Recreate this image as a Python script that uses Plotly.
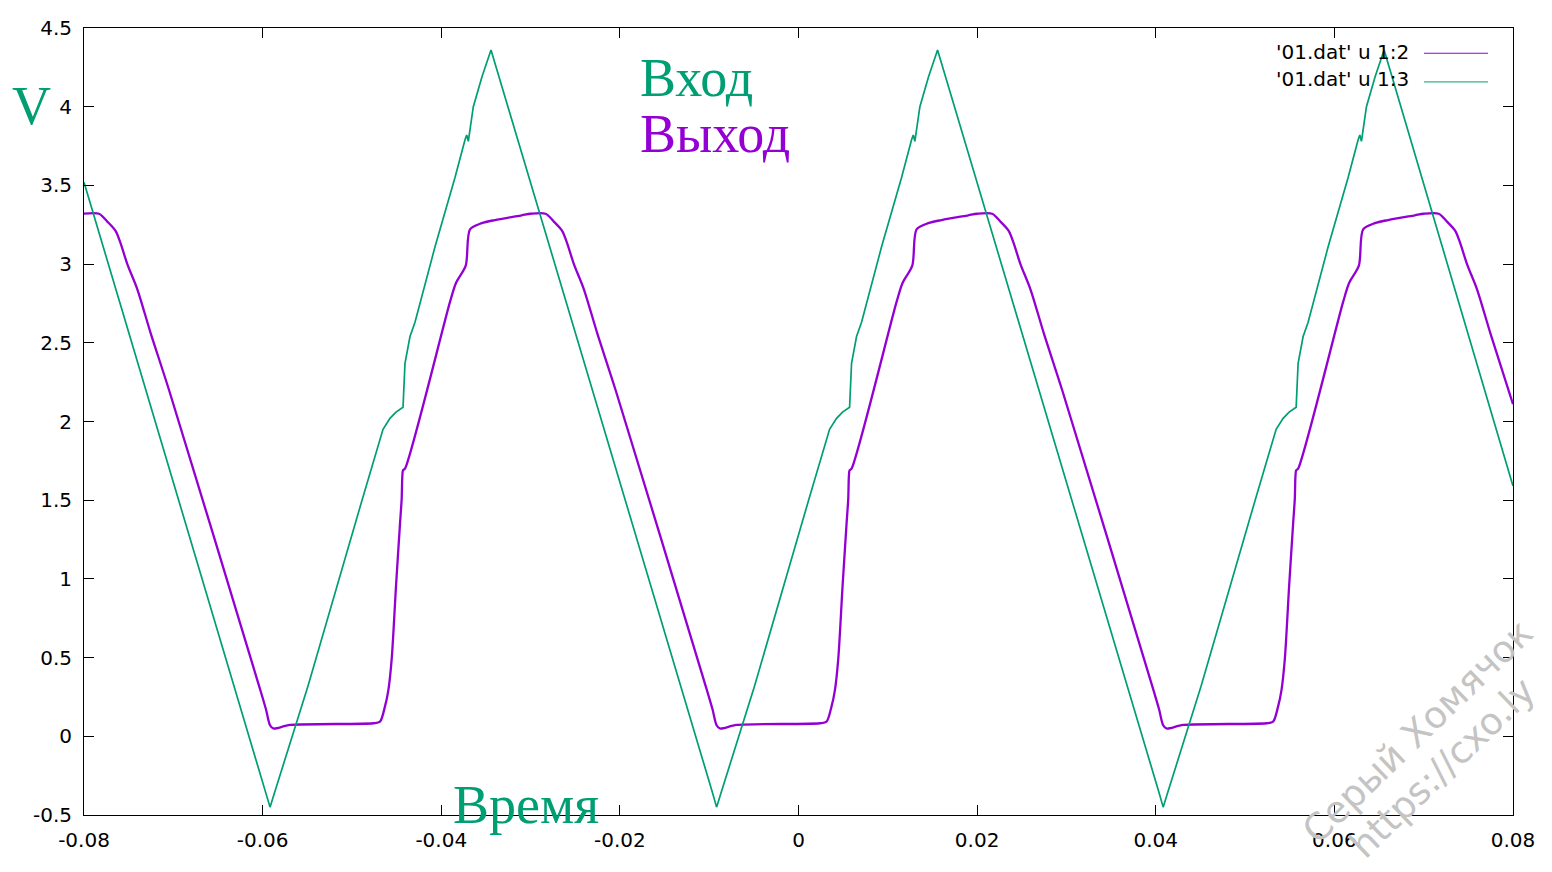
import plotly.graph_objects as go

# ---- data (time in s, voltage in V) ----
# '01.dat' u 1:3  (green, "Вход")
green_t = [
    -0.08000, -0.05962, -0.05917, -0.05873, -0.05492, -0.04887, -0.04708, -0.04652,
    -0.04574, -0.04507, -0.04428, -0.04417, -0.04406, -0.04350, -0.04294, -0.04070,
    -0.03846, -0.03734, -0.03715, -0.03697, -0.03659, -0.03641, -0.03544, -0.03443,
    -0.00962, -0.00917, -0.00873, -0.00492, 0.00113, 0.00292, 0.00348, 0.00426,
    0.00493, 0.00572, 0.00583, 0.00594, 0.00650, 0.00706, 0.00930, 0.01154,
    0.01266, 0.01285, 0.01303, 0.01341, 0.01359, 0.01456, 0.01557,
    0.04038, 0.04083, 0.04127, 0.04508, 0.05113, 0.05292, 0.05348, 0.05426,
    0.05493, 0.05572, 0.05583, 0.05594, 0.05650, 0.05706, 0.05930, 0.06154,
    0.06266, 0.06285, 0.06303, 0.06341, 0.06359, 0.06456, 0.06557, 0.08000,
]
green_v = [
    3.52, -0.36, -0.45, -0.37, 0.32, 1.50, 1.85, 1.95,
    2.02, 2.06, 2.09, 2.30, 2.37, 2.54, 2.63, 3.11,
    3.55, 3.79, 3.82, 3.78, 3.92, 4.00, 4.19, 4.36,
    -0.36, -0.45, -0.37, 0.32, 1.50, 1.85, 1.95, 2.02,
    2.06, 2.09, 2.30, 2.37, 2.54, 2.63, 3.11, 3.55,
    3.79, 3.82, 3.78, 3.92, 4.00, 4.19, 4.36,
    -0.36, -0.45, -0.37, 0.32, 1.50, 1.85, 1.95, 2.02,
    2.06, 2.09, 2.30, 2.37, 2.54, 2.63, 3.11, 3.55,
    3.79, 3.82, 3.78, 3.92, 4.00, 4.19, 4.36, 1.59,
]

# '01.dat' u 1:2  (purple, "Выход")
purple_t = [
    -0.08000, -0.07832, -0.07739, -0.07645, -0.07589, -0.07515, -0.07403, -0.07253,
    -0.07048, -0.06029, -0.05962, -0.05917, -0.05881, -0.05693, -0.04761, -0.04686,
    -0.04630, -0.04593, -0.04555, -0.04507, -0.04462, -0.04443, -0.04436, -0.04428,
    -0.04406, -0.03902, -0.03835, -0.03726, -0.03678, -0.03547, -0.03398, -0.03099,
    -0.03000, -0.02832, -0.02739, -0.02645, -0.02589, -0.02515, -0.02403, -0.02253,
    -0.02048, -0.01029, -0.00962, -0.00917, -0.00881, -0.00693, 0.00239, 0.00314,
    0.00370, 0.00407, 0.00445, 0.00493, 0.00538, 0.00557, 0.00564, 0.00572,
    0.00594, 0.01098, 0.01165, 0.01274, 0.01322, 0.01453, 0.01602, 0.01901,
    0.02000, 0.02168, 0.02261, 0.02355, 0.02411, 0.02485, 0.02597, 0.02747,
    0.02952, 0.03971, 0.04038, 0.04083, 0.04119, 0.04307, 0.05239, 0.05314,
    0.05370, 0.05407, 0.05445, 0.05493, 0.05538, 0.05557, 0.05564, 0.05572,
    0.05594, 0.06098, 0.06165, 0.06274, 0.06322, 0.06453, 0.06602, 0.06901,
    0.07000, 0.07168, 0.07261, 0.07355, 0.07411, 0.07485, 0.07597, 0.07747,
    0.08000,
]
purple_v = [
    3.32, 3.32, 3.27, 3.21, 3.13, 3.00, 2.84, 2.56,
    2.20, 0.30, 0.17, 0.07, 0.05, 0.072, 0.083, 0.093,
    0.19, 0.29, 0.49, 0.95, 1.35, 1.51, 1.65, 1.69,
    1.70, 2.76, 2.88, 2.99, 3.22, 3.26, 3.28, 3.31,
    3.32, 3.32, 3.27, 3.21, 3.13, 3.00, 2.84, 2.56,
    2.20, 0.30, 0.17, 0.07, 0.05, 0.072, 0.083, 0.093,
    0.19, 0.29, 0.49, 0.95, 1.35, 1.51, 1.65, 1.69,
    1.70, 2.76, 2.88, 2.99, 3.22, 3.26, 3.28, 3.31,
    3.32, 3.32, 3.27, 3.21, 3.13, 3.00, 2.84, 2.56,
    2.20, 0.30, 0.17, 0.07, 0.05, 0.072, 0.083, 0.093,
    0.19, 0.29, 0.49, 0.95, 1.35, 1.51, 1.65, 1.69,
    1.70, 2.76, 2.88, 2.99, 3.22, 3.26, 3.28, 3.31,
    3.32, 3.32, 3.27, 3.21, 3.13, 3.00, 2.84, 2.56,
    2.11,
]

x_tickvals = [-0.08, -0.06, -0.04, -0.02, 0, 0.02, 0.04, 0.06, 0.08]
x_ticktext = ["-0.08", "-0.06", "-0.04", "-0.02", "0", "0.02", "0.04", "0.06", "0.08"]
y_tickvals = [-0.5, 0, 0.5, 1, 1.5, 2, 2.5, 3, 3.5, 4, 4.5]
y_ticktext = ["-0.5", "0", "0.5", "1", "1.5", "2", "2.5", "3", "3.5", "4", "4.5"]

name_out = "'01.dat' u 1:2"
name_in = "'01.dat' u 1:3"

PURPLE = "#9400D3"
GREEN = "#009E73"
TICKFONT = dict(family="DejaVu Sans", size=20, color="black")
SERIF = "Liberation Serif"

fig = go.Figure()
fig.add_trace(go.Scatter(x=purple_t, y=purple_v, mode="lines", name=name_out,
                         line=dict(color=PURPLE, width=2.3, shape="spline", smoothing=0.8)))
fig.add_trace(go.Scatter(x=green_t, y=green_v, mode="lines", name=name_in,
                         line=dict(color=GREEN, width=1.7)))

axis_common = dict(ticks="inside", ticklen=10, tickcolor="black", tickwidth=1,
                   showline=True, linecolor="black", linewidth=1, mirror="ticks",
                   showgrid=False, zeroline=False, tickfont=TICKFONT)

fig.update_layout(
    width=1552, height=872,
    margin=dict(l=84, r=39, t=28, b=57),
    plot_bgcolor="white", paper_bgcolor="white",
    showlegend=False,
    xaxis=dict(range=[-0.08, 0.08], tickvals=x_tickvals, ticktext=x_ticktext,
               ticklabelstandoff=7, **axis_common),
    yaxis=dict(range=[-0.5, 4.5], tickvals=y_tickvals, ticktext=y_ticktext,
               ticklabelstandoff=7, **axis_common),
)

# gnuplot-style key (text right, sample line to its right)
for txt, col, ty, ly in [(name_out, PURPLE, 0.9699, 0.9679), (name_in, GREEN, 0.9354, 0.9315)]:
    fig.add_annotation(text=txt, xref="paper", yref="paper", x=0.9286, y=ty,
                       xanchor="right", yanchor="middle", showarrow=False,
                       font=dict(family="DejaVu Sans", size=20, color="black"))
    fig.add_shape(type="line", xref="paper", yref="paper", x0=0.9377, x1=0.9825,
                  y0=ly, y1=ly, line=dict(color=col, width=1))

# labels
fig.add_annotation(text="Вход", xref="paper", yref="paper", x=0.3875, y=0.9371,
                   xanchor="left", yanchor="middle", showarrow=False,
                   font=dict(family=SERIF, size=54, color=GREEN))
fig.add_annotation(text="Выход", xref="paper", yref="paper", x=0.3875, y=0.8659,
                   xanchor="left", yanchor="middle", showarrow=False,
                   font=dict(family=SERIF, size=54, color=PURPLE))
fig.add_annotation(text="Время", xref="paper", yref="paper", x=0.2565, y=0.0133,
                   xanchor="left", yanchor="middle", showarrow=False,
                   font=dict(family=SERIF, size=54, color=GREEN))
fig.add_annotation(text="V", xref="paper", yref="paper", x=-0.0515, y=0.9003,
                   xanchor="left", yanchor="middle", showarrow=False,
                   font=dict(family=SERIF, size=54, color=GREEN))

# watermark
fig.add_annotation(text="Серый Хомячок", xref="paper", yref="paper", x=0.9335, y=0.1055,
                   xanchor="center", yanchor="middle", showarrow=False, textangle=-44,
                   font=dict(family="DejaVu Sans", size=37, color="rgb(196,196,196)"))
fig.add_annotation(text="https://cxo.ly", xref="paper", yref="paper", x=0.9510, y=0.0600,
                   xanchor="center", yanchor="middle", showarrow=False, textangle=-44,
                   font=dict(family="DejaVu Sans", size=37, color="rgb(196,196,196)"))

fig.write_html("out.html", config={"displayModeBar": False},
               post_script="document.body.style.margin='0';document.body.style.overflow='hidden';")
